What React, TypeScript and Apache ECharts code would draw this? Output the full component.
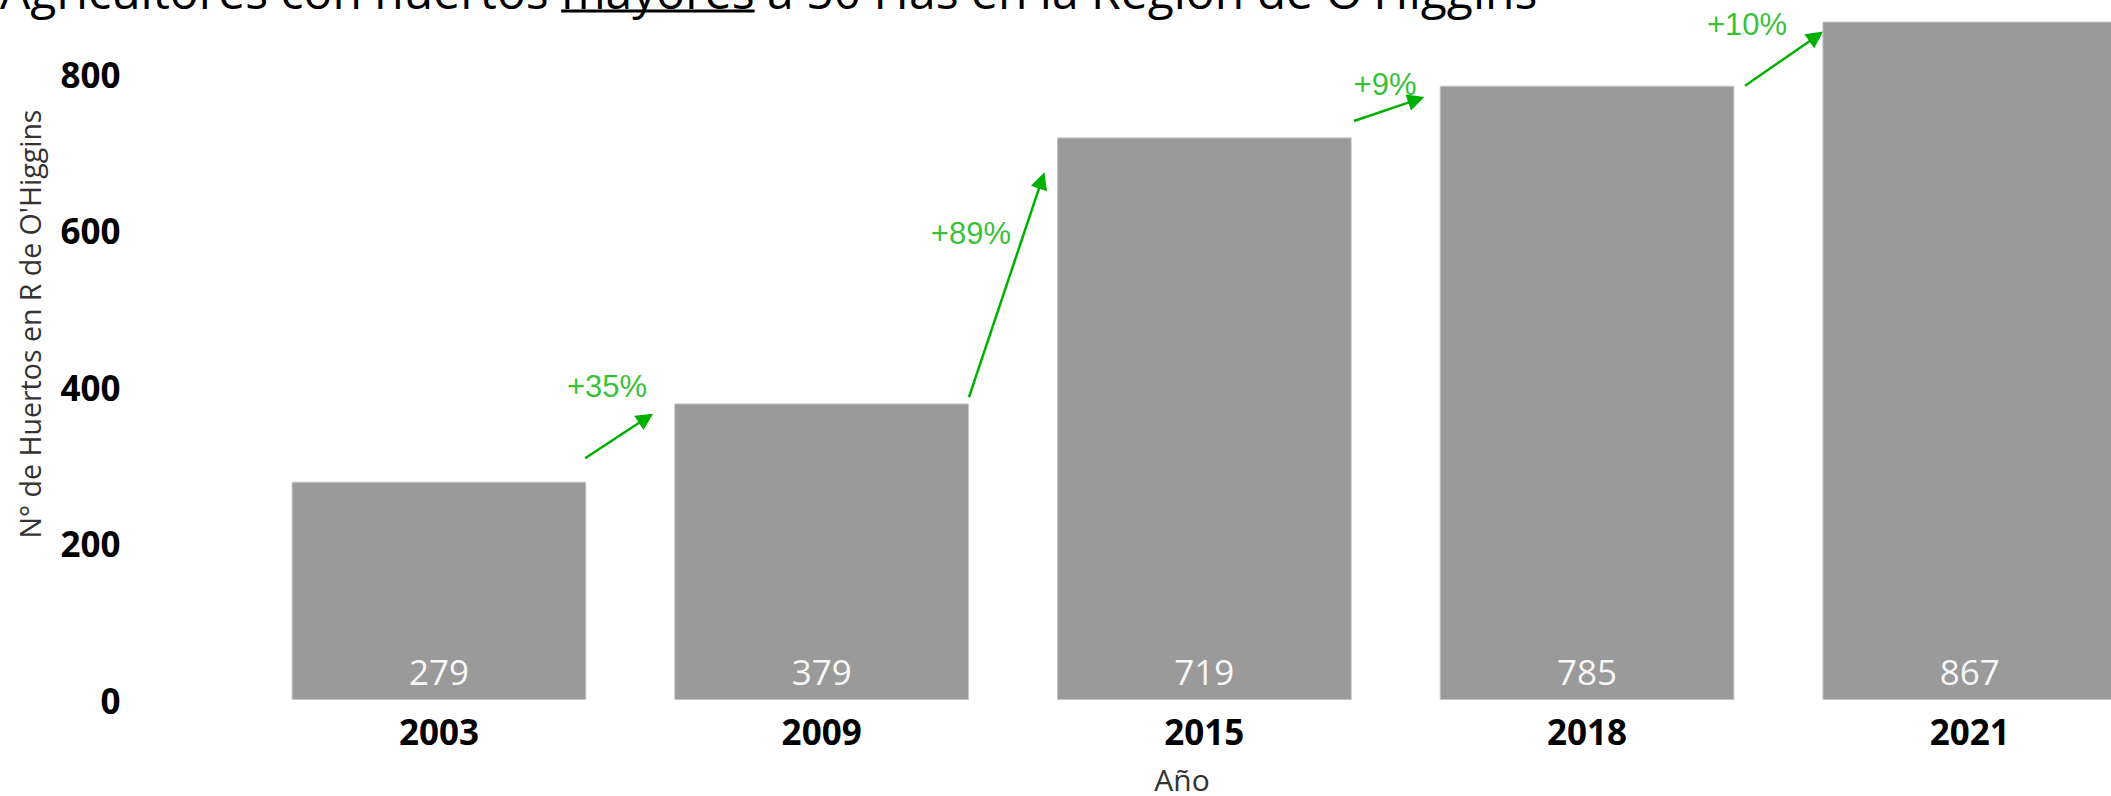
import React, { useEffect, useRef } from "react";
import * as echarts from "echarts";

// ---- data ----
const categories = ["2003", "2009", "2015", "2018", "2021"];
const values = [279, 379, 719, 785, 867];
const changeLabels = ["+35%", "+89%", "+9%", "+10%"];
// annotation arrows in data space: [fractional category index, value]
const arrowStarts: [number, number][] = [[0.382, 309], [1.385, 387], [2.391, 740], [3.413, 785]];
const arrowEnds: [number, number][] = [[0.541, 360], [1.575, 664], [2.554, 767], [3.599, 848]];
const labelAnchors: [number, number][] = [[0.439, 401], [1.39, 596], [2.472, 787], [3.418, 863]];

const titlePrefix = "Agricultores con huertos ";
const titleUnderlined = "mayores";
const titleSuffix = " a 50 Has en la Región de O'Higgins";
const yAxisTitle = "N° de Huertos en R de O'Higgins";
const xAxisTitle = "Año";

const GREEN = "#00b000";
const TITLE_FONT_SIZE = 48;
const TITLE_FONT = `400 ${TITLE_FONT_SIZE}px "Open Sans"`;

export default function App() {
  const ref = useRef<HTMLDivElement>(null);
  useEffect(() => {
    if (!ref.current) return;
    const chart = echarts.init(ref.current, null, { renderer: "svg" });
    const ctx = document.createElement("canvas").getContext("2d")!;
    ctx.font = TITLE_FONT;
    const preW = ctx.measureText(titlePrefix).width;
    const uW = ctx.measureText(titleUnderlined).width;

    chart.setOption({
      animation: false,
      backgroundColor: "#ffffff",
      grid: { left: 247.6, width: 1913.5, top: 74, height: 626, outerBoundsMode: "none" },
      xAxis: [
        {
          type: "category",
          data: categories,
          axisLine: { show: false },
          axisTick: { show: false },
          axisLabel: {
            margin: 14,
            fontFamily: "Open Sans",
            fontWeight: "bold",
            fontSize: 35,
            color: "#000",
          },
        },
        { type: "value", min: -0.5, max: 4.5, show: false },
      ],
      yAxis: {
        type: "value",
        min: 0,
        max: 800,
        interval: 200,
        splitLine: { show: false },
        axisLine: { show: false },
        axisTick: { show: false },
        axisLabel: {
          margin: 127,
          fontFamily: "Open Sans",
          fontWeight: "bold",
          fontSize: 35,
          color: "#000",
        },
      },
      graphic: [
        {
          type: "text",
          x: 0,
          y: -10,
          style: {
            text: titlePrefix + titleUnderlined + titleSuffix,
            font: TITLE_FONT,
            fill: "#000",
            align: "left",
            verticalAlign: "middle",
          },
        },
        {
          type: "line",
          shape: { x1: preW, y1: 11, x2: preW + uW, y2: 11 },
          style: { stroke: "#000", lineWidth: 3 },
        },
        {
          type: "text",
          x: 30,
          y: 324,
          rotation: Math.PI / 2,
          style: {
            text: yAxisTitle,
            fontFamily: "Open Sans",
            fontSize: 28.5,
            fill: "#333",
            align: "center",
            verticalAlign: "middle",
          },
        },
        {
          type: "text",
          x: 1182,
          y: 779,
          style: {
            text: xAxisTitle,
            fontFamily: "Open Sans",
            fontSize: 30,
            fill: "#333",
            align: "center",
            verticalAlign: "middle",
          },
        },
      ],
      series: [
        {
          type: "bar",
          data: values,
          barCategoryGap: "23%",
          clip: false,
          itemStyle: { color: "#9a9a9a", borderColor: "#c4c4c4", borderWidth: 1 },
          label: {
            show: true,
            position: "insideBottom",
            distance: 11,
            fontFamily: "Open Sans",
            fontSize: 35,
            color: "#f7f7f7",
          },
        },
        {
          type: "lines",
          coordinateSystem: "cartesian2d",
          xAxisIndex: 1,
          yAxisIndex: 0,
          clip: false,
          symbol: ["none", "triangle"],
          symbolSize: [15, 17],
          lineStyle: { color: GREEN, width: 2.5, opacity: 1 },
          data: arrowStarts.map((s, i) => ({ coords: [s, arrowEnds[i]] })),
        },
        {
          type: "scatter",
          xAxisIndex: 1,
          yAxisIndex: 0,
          clip: false,
          symbolSize: 1,
          itemStyle: { color: "rgba(0,0,0,0)" },
          label: {
            show: true,
            position: "inside",
            formatter: "{b}",
            fontFamily: "Liberation Sans",
            fontSize: 31,
            color: GREEN,
          },
          data: labelAnchors.map((p, i) => ({ name: changeLabels[i], value: p })),
        },
      ],
    });
    return () => chart.dispose();
  }, []);
  return (
    <div
      ref={ref}
      style={{ position: "fixed", left: 0, top: 0, width: 2111, height: 796 }}
    />
  );
}
